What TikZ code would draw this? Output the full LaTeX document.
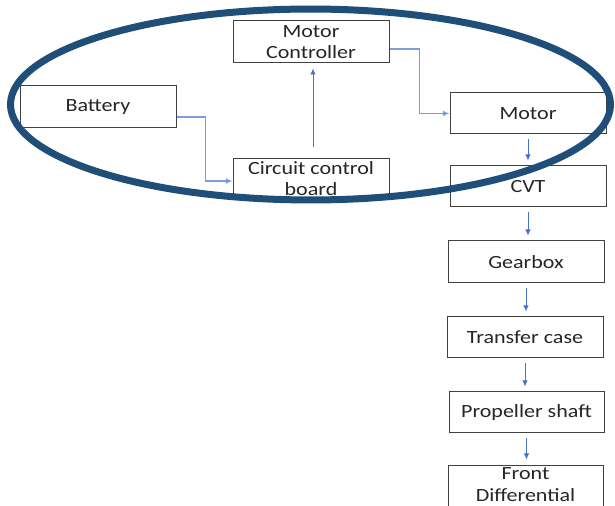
\documentclass[tikz,border=0pt]{standalone}
\usepackage{fontspec}
\setmainfont{Carlito}[FakeStretch=1.18]
\usetikzlibrary{arrows.meta,calc}
\definecolor{ringblue}{HTML}{1F4E79}
\definecolor{arrblue}{HTML}{4472C4}
\definecolor{elbowblue}{HTML}{7C9FDC}
\begin{document}
\begin{tikzpicture}[x=0.75pt,y=-0.75pt,
  box/.style={draw=black!75,line width=0.75pt,fill=white,inner sep=0pt,
    minimum width=117pt,minimum height=31.5pt,align=center,
    font=\fontsize{14pt}{16pt}\selectfont,text=black!85},
  arr/.style={draw=arrblue,line width=0.7pt,-{Latex[length=4.5pt,width=4pt]}},
  elbow/.style={arr,draw=elbowblue,line width=1pt,-{Latex[length=5pt,width=4.5pt,fill=arrblue]}},
  chain/.style={arr,shorten <=3.75pt,shorten >=3.75pt}]
\useasboundingbox (0,0) rectangle (615,506);
\clip (0,0) rectangle (615,506);
\fill[white] (0,0) rectangle (615,506);
% nodes
\node[box] (bat) at (98,107) {Battery};
\node[box] (mc) at (311,42) {Motor\\Controller};
\node[box,minimum height=29.25pt] (ccb) at (311,178.5) {Circuit control\\board};
\node[box,minimum height=30.75pt] (mot) at (528,113.5) {Motor};
\node[box,minimum height=30.75pt] (cvt) at (528,186.5) {CVT};
\node[box] (gb) at (526,262) {Gearbox};
\node[box,minimum height=30.75pt] (tc) at (525,337.5) {Transfer case};
\node[box,minimum width=116.25pt,minimum height=30.75pt] (ps) at (526.5,412.5) {Propeller shaft};
\node[box,minimum width=116.25pt,minimum height=33.75pt,text depth=4.5pt] (fd) at (525.5,487.5) {Front\\Differential};
% connectors
\draw[elbow] ([yshift=-7.5pt]bat.east) -- ++(21.5pt,0) |- ([yshift=-1.9pt]ccb.west);
\draw[arr] ([xshift=1.5pt,yshift=8.25pt]ccb.north) -- ([xshift=1.5pt,yshift=-3.75pt]mc.south);
\draw[elbow] ([yshift=-5.25pt]mc.east) -- ++(22.5pt,0) |- (mot.west);
\draw[chain] (mot.south) -- (mot.south |- cvt.north);
\draw[chain] (cvt.south) -- (cvt.south |- gb.north);
\draw[chain] (gb.south) -- (gb.south |- tc.north);
\draw[chain] (tc.south) -- (tc.south |- ps.north);
\draw[chain] (ps.south) -- (ps.south |- fd.north);
% ring
\draw[ringblue,line width=5.25pt] (310.5,104.5) ellipse [x radius=225pt,y radius=71.6pt];
\end{tikzpicture}
\end{document}
